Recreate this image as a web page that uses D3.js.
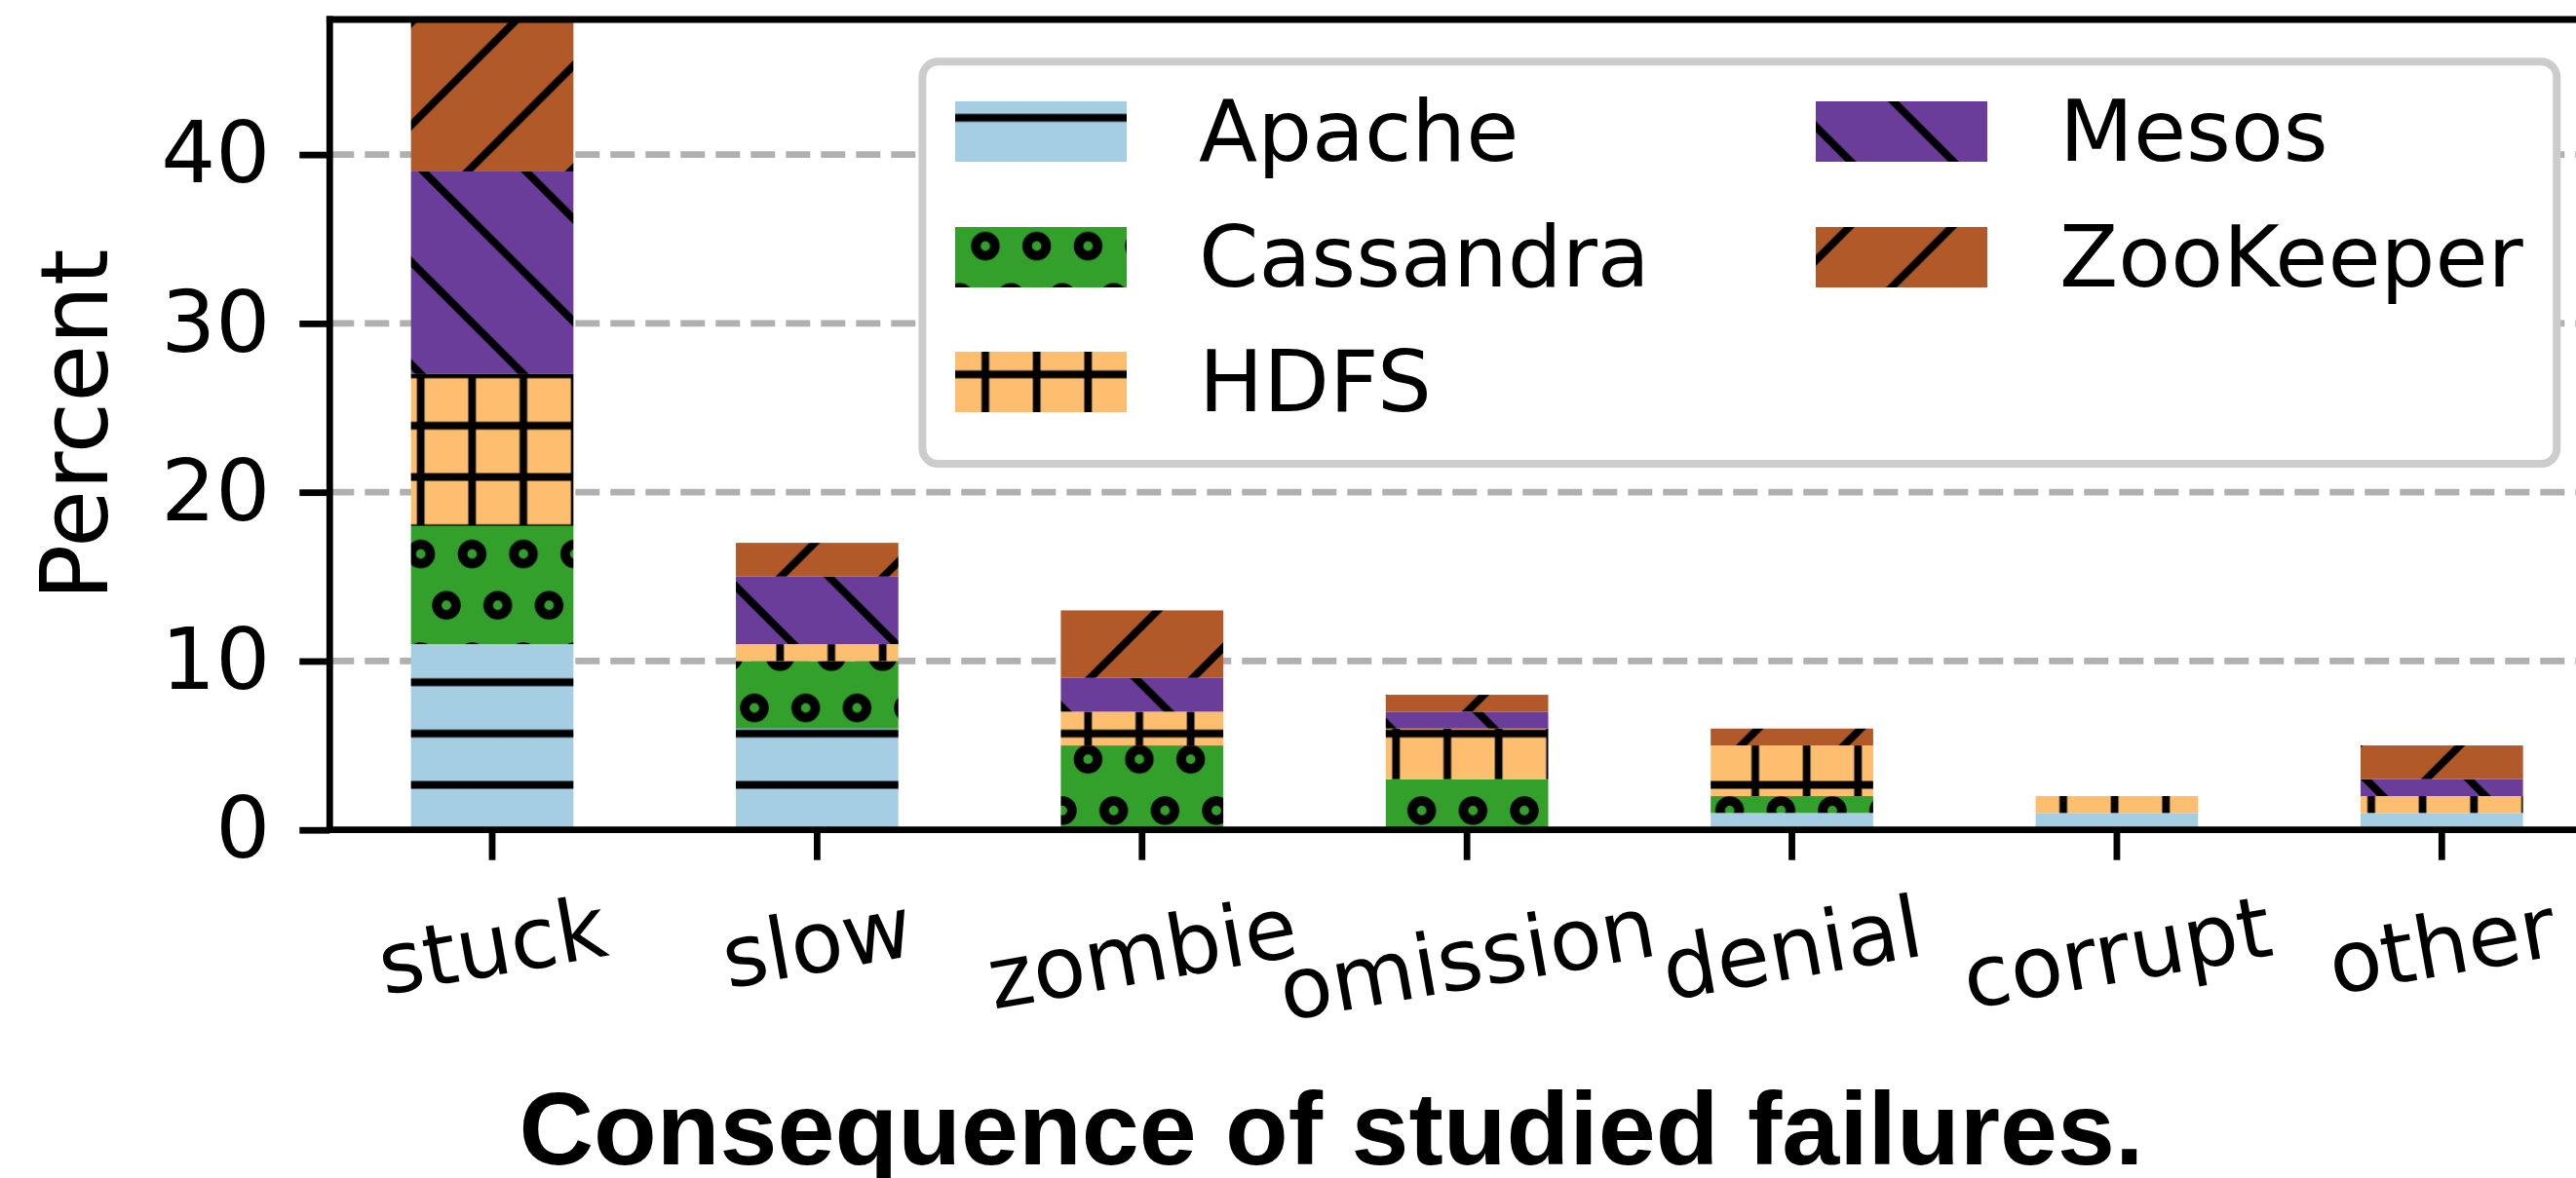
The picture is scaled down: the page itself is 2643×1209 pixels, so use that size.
<!DOCTYPE html>
<html>
<head>
<meta charset="utf-8">
<script src="https://cdn.jsdelivr.net/npm/d3@7"></script>
<style>
  body { margin: 0; background: #fff; }
  svg { display: block; }
</style>
</head>
<body>
<svg id="chart" width="2643" height="1209"></svg>
<script>
// data (percent of studied failures)
var categories = ["stuck", "slow", "zombie", "omission", "denial", "corrupt", "other"];
var systems    = ["Apache", "Cassandra", "HDFS", "Mesos", "ZooKeeper"];
var apache     = [11, 6, 0, 0, 1, 1, 1];
var cassandra  = [7, 4, 5, 3, 1, 0, 0];
var hdfs       = [9, 1, 2, 3, 3, 1, 1];
var mesos      = [12, 4, 2, 1, 0, 0, 1];
var zookeeper  = [9, 2, 4, 1, 1, 0, 2];
var yTicks     = [0, 10, 20, 30, 40];
var colors  = ["#a6cee3", "#33a02c", "#fdbf6f", "#6a3d9a", "#b15928"];
var hatches = ["-", "o", "+", "\\", "/"];

var series = [apache, cassandra, hdfs, mesos, zookeeper];
var rows = categories.map(function(c, i) {
  var r = {category: c};
  systems.forEach(function(s, j) { r[s] = series[j][i]; });
  return r;
});

var svg = d3.select("#chart"),
  width = +svg.attr("width"),
  height = +svg.attr("height");

var plotLeft = 338.3, plotRight = 2672, plotTop = 20, plotBottom = 851.7;
var lw = 6.8;
var tickFont = "'DejaVu Sans', sans-serif";

var x = d3.scaleBand()
  .domain(categories)
  .range([plotLeft, plotRight])
  .paddingInner(0.5)
  .paddingOuter(0.25);
var y = d3.scaleLinear()
  .domain([0, 48])
  .range([plotBottom, plotTop]);

// hatch patterns, all in page space so they line up like matplotlib's
var tile = 105.33, u = tile / 2, hatchLw = 7.8;
var defs = svg.append("defs");
function makePattern(id, color, hatch) {
  var p = defs.append("pattern")
    .attr("id", id)
    .attr("patternUnits", "userSpaceOnUse")
    .attr("x", 36.7).attr("y", 41.9)
    .attr("width", tile).attr("height", tile);
  p.append("rect").attr("width", tile).attr("height", tile).attr("fill", color);
  var g = p.append("g").attr("stroke", "#000").attr("stroke-width", hatchLw).attr("fill", "none");
  if (hatch === "-" || hatch === "+") {
    [u / 2, 3 * u / 2].forEach(function(v) {
      g.append("line").attr("x1", -2).attr("x2", tile + 2).attr("y1", v).attr("y2", v);
    });
  }
  if (hatch === "+") {
    [u / 2, 3 * u / 2].forEach(function(v) {
      g.append("line").attr("y1", -2).attr("y2", tile + 2).attr("x1", v).attr("x2", v);
    });
  }
  if (hatch === "o") {
    var pts = [[u / 2, 0], [3 * u / 2, 0], [u / 2, tile], [3 * u / 2, tile],
               [0, u], [u, u], [tile, u]];
    pts.forEach(function(pt) {
      g.append("circle").attr("cx", pt[0]).attr("cy", pt[1]).attr("r", 9.8).attr("stroke-width", 9.8);
    });
  }
  if (hatch === "/") {
    [50.5 - tile, 50.5, 50.5 + tile].forEach(function(c) {
      g.append("line").attr("x1", -20).attr("y1", c + 20).attr("x2", tile + 20).attr("y2", c - tile - 20);
    });
  }
  if (hatch === "\\") {
    [52.3 - tile, 52.3, 52.3 + tile].forEach(function(c) {
      g.append("line").attr("x1", -20).attr("y1", c - 20).attr("x2", tile + 20).attr("y2", c + tile + 20);
    });
  }
}
systems.forEach(function(s, j) { makePattern("hatch" + j, colors[j], hatches[j]); });

// grid
svg.append("g")
  .selectAll("line")
  .data(yTicks.filter(function(d) { return d > 0; }))
  .enter().append("line")
    .attr("x1", plotLeft).attr("x2", width)
    .attr("y1", function(d) { return y(d); })
    .attr("y2", function(d) { return y(d); })
    .attr("stroke", "#b0b0b0")
    .attr("stroke-width", 6.8)
    .attr("stroke-dasharray", "25,11");

// stacked bars
var stacked = d3.stack().keys(systems)(rows);
svg.append("g")
  .selectAll("g")
  .data(stacked)
  .enter().append("g")
    .attr("fill", function(d, j) { return "url(#hatch" + j + ")"; })
  .selectAll("rect")
  .data(function(d) { return d; })
  .enter().append("rect")
    .attr("x", function(d) { return x(d.data.category); })
    .attr("width", x.bandwidth())
    .attr("y", function(d) { return y(d[1]); })
    .attr("height", function(d) { return y(d[0]) - y(d[1]); });

// axes
var yAxis = svg.append("g")
  .attr("transform", "translate(" + plotLeft + ",0)")
  .call(d3.axisLeft(y).tickValues(yTicks).tickSize(31).tickPadding(30));
yAxis.select(".domain").remove();
yAxis.selectAll(".tick line").attr("stroke-width", lw);
yAxis.selectAll("text")
  .attr("font-family", tickFont)
  .attr("font-size", 88)
  .attr("fill", "#000");

var xAxis = svg.append("g")
  .attr("transform", "translate(0," + plotBottom + ")")
  .call(d3.axisBottom(x).tickSize(31).tickFormat(""));
xAxis.select(".domain").remove();
xAxis.selectAll(".tick line").attr("stroke-width", lw);

// rotated category labels, placed like matplotlib (rotated box top under the tick)
var rot = 10 * Math.PI / 180;
var labTop = plotBottom + 31 + 17;
categories.forEach(function(c) {
  var g = svg.append("g");
  var t = g.append("text")
    .attr("text-anchor", "middle")
    .attr("font-family", tickFont)
    .attr("font-size", 88)
    .attr("y", 0.346 * 88)
    .text(c);
  var w = t.node().getComputedTextLength();
  var h = w * Math.sin(rot) + 1.164 * 88 * Math.cos(rot);
  g.attr("transform", "translate(" + (x(c) + x.bandwidth() / 2) + "," + (labTop + h / 2) + ") rotate(-10)");
});

// spines
var spines = svg.append("g").attr("stroke", "#000").attr("stroke-width", lw).attr("stroke-linecap", "square");
spines.append("line").attr("x1", plotLeft).attr("x2", plotLeft).attr("y1", plotTop).attr("y2", plotBottom);
spines.append("line").attr("x1", plotLeft).attr("x2", plotRight).attr("y1", plotBottom).attr("y2", plotBottom);
spines.append("line").attr("x1", plotLeft).attr("x2", plotRight).attr("y1", plotTop).attr("y2", plotTop);

// axis titles
svg.append("text")
  .attr("transform", "translate(110," + ((plotTop + plotBottom) / 2) + ") rotate(-90)")
  .attr("text-anchor", "middle")
  .attr("font-family", tickFont)
  .attr("font-size", 96)
  .text("Percent");

svg.append("text")
  .attr("x", 1366)
  .attr("y", 1195)
  .attr("text-anchor", "middle")
  .attr("font-family", "'Liberation Sans', Arial, sans-serif")
  .attr("font-weight", "bold")
  .attr("font-size", 106)
  .text("Consequence of studied failures.");

// legend, two columns filled top to bottom
var legend = svg.append("g");
legend.append("rect")
  .attr("x", 946.4).attr("y", 63.3)
  .attr("width", 2623.3 - 946.4).attr("height", 476 - 63.3)
  .attr("rx", 16).attr("ry", 16)
  .attr("fill", "#fff")
  .attr("stroke", "#cccccc")
  .attr("stroke-width", 8);
var colX = [980, 1863], rowY = [135, 264, 392];
systems.forEach(function(s, j) {
  var cx = colX[Math.floor(j / 3)], cy = rowY[j % 3];
  legend.append("rect")
    .attr("x", cx).attr("y", cy - 31)
    .attr("width", 176).attr("height", 62)
    .attr("fill", "url(#hatch" + j + ")");
  legend.append("text")
    .attr("x", cx + 250).attr("y", cy + 30)
    .attr("font-family", tickFont)
    .attr("font-size", 88)
    .text(s);
});
</script>
</body>
</html>
